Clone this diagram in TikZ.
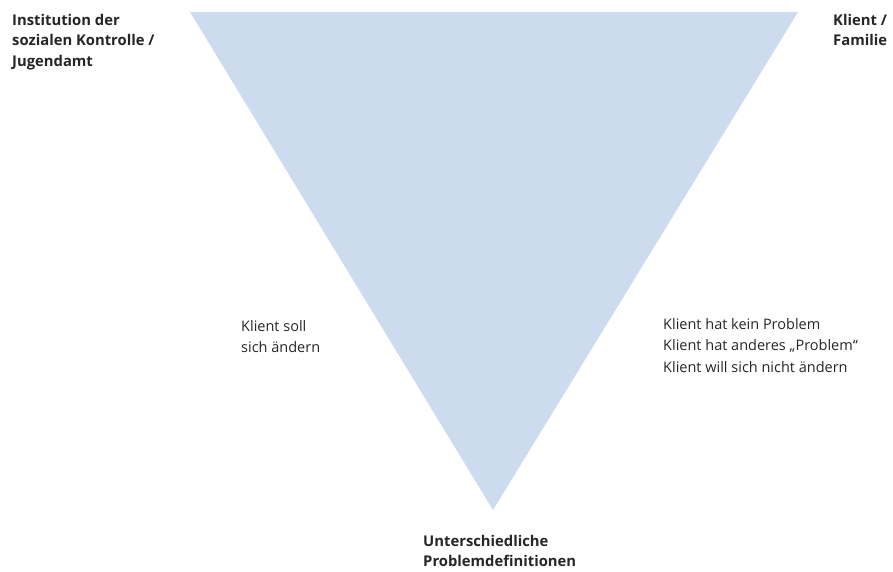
\documentclass[tikz,border=0pt]{standalone}
\usepackage{fontspec}
\setmainfont{Open Sans}
\usepackage{tikz}
\usetikzlibrary{positioning}
\definecolor{triblue}{RGB}{204,220,238}
\tikzset{corner label/.style={
	anchor=north west,
	align=left,
	inner sep=0mm,
	font=\bfseries\fontsize{14.8}{20.5}\selectfont,
	black!85,
},
side label/.style={
	anchor=north west,
	align=left,
	inner sep=0mm,
	font=\fontsize{14.5}{21.5}\selectfont,
	black!85,
}}

\begin{document}
\begin{tikzpicture}[x=1pt,y=-1pt]
\useasboundingbox (0,0) rectangle (893,571);

\coordinate (tl) at (190,12);
\coordinate (tr) at (798,12);
\coordinate (bt) at (493,510);
\fill[triblue] (tl) -- (tr) -- (bt) -- cycle;

\node[corner label](inst) at (12,14) {Institution der\\sozialen Kontrolle /\\Jugendamt};
\node[corner label](klient) at (833,14) {Klient /\\Familie};
\node[corner label](defs) at (423,535) {Unterschiedliche\\Problemdefinitionen};

\node[side label](soll) at (241,320) {Klient soll\\sich ändern};
\node[side label](kein) at (663,318) {Klient hat kein Problem\\Klient hat anderes „Problem“\\Klient will sich nicht ändern};

\end{tikzpicture}
\end{document}
